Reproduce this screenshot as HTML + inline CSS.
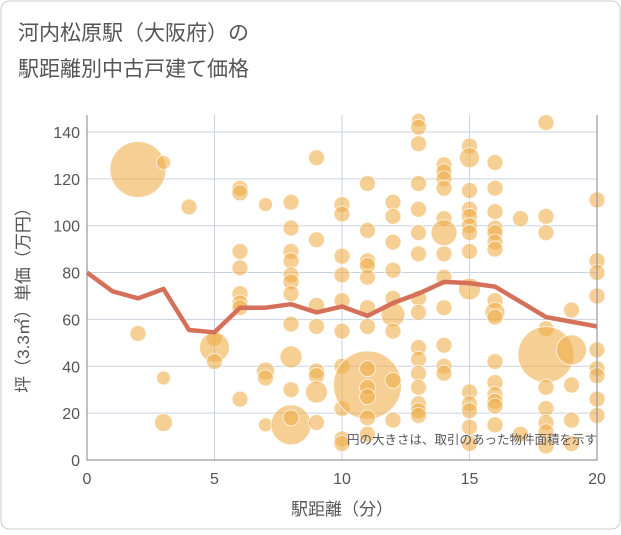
<!DOCTYPE html>
<html><head><meta charset="utf-8"><style>
body{margin:0;background:#fff;font-family:"Liberation Sans","Noto Sans CJK JP",sans-serif;}
#wrap{position:relative;width:621px;height:530px;}
</style></head><body>
<div id="wrap">
<svg id="chart" width="621" height="530" style="font-family:'Liberation Sans','Noto Sans CJK JP',sans-serif">
<rect x="1" y="1" width="619" height="528" rx="8" fill="#fff" stroke="#ccc"/>
<text x="18" y="40" font-size="21" fill="#555">河内松原駅（大阪府）の</text>
<text x="18" y="76" font-size="21" fill="#555">駅距離別中古戸建て価格</text>
<g id="grid"></g>
<g id="bubbles"></g>
<g id="line"></g>
<g id="axes"></g>
<text x="597" y="444" font-size="12.5" fill="#555" text-anchor="end">円の大きさは、取引のあった物件面積を示す</text>
<text x="342" y="515" font-size="17" fill="#555" text-anchor="middle">駅距離（分）</text>
<text transform="translate(29,296) rotate(-90)" font-size="17" fill="#555" text-anchor="middle">坪（3.3㎡）単価（万円）</text>
</svg>
</div>
<script>
const xTicks=[0,5,10,15,20];
const yTicks=[0,20,40,60,80,100,120,140];
const lineX=[0,1,2,3,4,5,6,7,8,9,10,11,12,13,14,15,16,17,18,19,20];
const lineY=[80,72,69,73,55.5,54.5,65,65,66.5,63,65.5,61.5,67,71,76,75.5,74,67.5,61,59,57];
const bubX=[
2,2,
3,3,3,
4,
5,5,5,
6,6,6,6,6,6,6,6,
7,7,7,7,
8,8,8,8,8,8,8,8,8,8,8,8,
9,9,9,9,9,9,9,9,
10,10,10,10,10,10,10,10,10,10,
11,11,11,11,11,11,11,11,11,11,11,11,11,
12,12,12,12,12,12,12,12,12,
13,13,13,13,13,13,13,13,13,13,13,13,13,13,13,13,
14,14,14,14,14,14,14,14,14,14,14,14,
15,15,15,15,15,15,15,15,15,15,15,15,15,15,
16,16,16,16,16,16,16,16,16,16,16,16,16,16,16,16,
17,17,
18,18,18,18,18,18,18,18,18,18,
19,19,19,19,19,
20,20,20,20,20,20,20,20,20];
const bubY=[
124,54,
127,35,16,
108,
52,48,42,
116,114,89,82,71,67,65,26,
109,38,35,15,
110,99,89,85,79,76,71,58,44,30,15,18,
129,94,66,57,38,36,29,16,
109,105,87,79,68,55,40,22,9,7,
118,98,85,83,78,65,57,32,39,31,27,18,11,
110,104,93,81,69,62,55,34,17,
145,142,135,118,107,97,88,69,63,48,43,37,31,24,21,19,
126,123,120,116,103,97,88,78,65,49,40,37,
134,129,115,107,104,100,97,89,73,29,24,21,14,7,
127,116,106,99,97,93,90,68,63,61,42,33,28,25,23,15,
103,11,
144,104,97,56,45,31,22,16,12,6,
64,47,32,17,7,
111,85,80,70,47,39,36,26,19];
const bubR=[
28,8,
7,7,9,
8,
8,15,8,
8,8,8,8,8,8,8,8,
7,9,8,7,
8,8,8,8,8,8,8,8,11,8,20,8,
8,8,8,8,8,8,11,8,
8,8,8,8,8,8,8,8,8,8,
8,8,8,8,8,8,8,34,8,8,8,8,8,
8,8,8,8,8,12,8,8,8,
7,8,8,8,8,8,8,8,8,8,8,8,8,8,8,8,
8,8,8,8,8,13,8,8,8,8,8,8,
8,10,8,8,8,8,8,8,11,8,8,8,8,8,
8,8,8,8,8,8,8,8,10,8,8,8,8,8,8,8,
8,8,
8,8,8,8,28,8,8,8,8,8,
8,15,8,8,8,
8,8,8,8,8,8,8,8,8];
const X=v=>87+v*25.5, Y=v=>460-v*2.343;
const NS='http://www.w3.org/2000/svg';
function mk(tag,attrs,parent){const e=document.createElementNS(NS,tag);for(const k in attrs)e.setAttribute(k,attrs[k]);parent.appendChild(e);return e;}
const grid=document.getElementById('grid'),axes=document.getElementById('axes');
yTicks.forEach(t=>{
 if(t>0){const l=mk('line',{x1:87,x2:597,y1:Y(t),y2:Y(t),stroke:'#c9d3df','stroke-width':1},grid);
 
 }
 const tx=mk('text',{x:80,y:Y(t)+6,'font-size':16,fill:'#555','text-anchor':'end'},axes);
 tx.textContent=t;
 
 
});
xTicks.forEach(t=>{
 if(t>0&&t<20){const l=mk('line',{x1:X(t),x2:X(t),y1:115,y2:460,stroke:'#c9d3df','stroke-width':1},grid);
 
 }
 const tx=mk('text',{x:X(t),y:484,'font-size':16,fill:'#555','text-anchor':'middle'},axes);
 tx.textContent=t;
 
 
});
const frame=mk('path',{d:'M87 115 V460 H597 V115',fill:'none',stroke:'#999','stroke-width':1.2},axes);


const bg=document.getElementById('bubbles');
bubX.forEach((x,i)=>{
 const c=mk('circle',{cx:X(x),cy:Y(bubY[i]),r:bubR[i],fill:'rgba(238,172,70,0.58)',stroke:'rgba(255,255,255,0.7)','stroke-width':1},bg);
 
 
});
const pts=lineX.map((x,i)=>X(x)+','+Y(lineY[i])).join(' ');
const pl=mk('polyline',{points:pts,fill:'none',stroke:'#d5705a','stroke-width':4.5,'stroke-linejoin':'round'},document.getElementById('line'));


</script>
</body></html>
